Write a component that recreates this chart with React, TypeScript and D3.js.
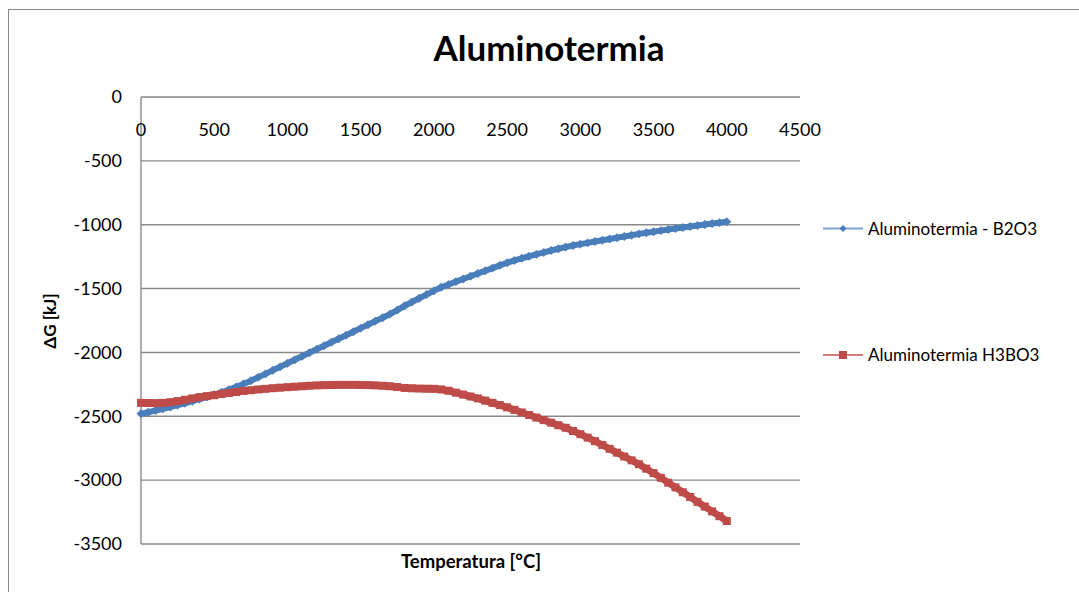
import React from "react";
import * as d3 from "d3";

const temperatures: number[] = Array.from({ length: 81 }, (_, i) => i * 50);

const seriesB2O3: number[] = [
  -2480, -2468, -2455, -2442, -2428, -2413, -2398, -2382, -2366, -2349,
  -2331, -2312, -2292, -2270, -2247, -2222, -2195, -2168, -2140, -2113,
  -2085, -2058, -2030, -2003, -1975, -1948, -1920, -1893, -1865, -1838,
  -1810, -1783, -1755, -1728, -1700, -1668, -1635, -1605, -1576, -1547,
  -1518, -1490, -1468, -1446, -1425, -1403, -1382, -1361, -1340, -1318,
  -1298, -1280, -1263, -1247, -1232, -1217, -1202, -1188, -1175, -1163,
  -1152, -1142, -1132, -1122, -1112, -1102, -1092, -1082, -1072, -1063,
  -1055, -1046, -1038, -1030, -1022, -1014, -1006, -998, -991, -984,
  -977,
];

const seriesH3BO3: number[] = [
  -2395, -2396, -2397, -2395, -2390, -2381, -2371, -2360, -2350, -2342,
  -2335, -2326, -2318, -2310, -2302, -2296, -2290, -2285, -2280, -2276,
  -2272, -2268, -2265, -2261, -2258, -2256, -2255, -2254, -2254, -2254,
  -2255, -2256, -2258, -2261, -2265, -2271, -2278, -2281, -2283, -2284,
  -2285, -2290, -2300, -2315, -2330, -2345, -2360, -2377, -2395, -2412,
  -2430, -2450, -2470, -2490, -2510, -2530, -2550, -2570, -2590, -2615,
  -2640, -2667, -2695, -2725, -2755, -2785, -2815, -2845, -2875, -2910,
  -2945, -2982, -3020, -3057, -3095, -3132, -3170, -3207, -3245, -3282,
  -3320,
];

const xTicks: number[] = [0, 500, 1000, 1500, 2000, 2500, 3000, 3500, 4000, 4500];
const yTicks: number[] = [0, -500, -1000, -1500, -2000, -2500, -3000, -3500];

const seriesNames: string[] = ["Aluminotermia - B2O3", "Aluminotermia H3BO3"];
const title = "Aluminotermia";
const xTitle = "Temperatura [°C]";
const yTitle = "\u0394G [kJ]";

const BLUE = "#4a7ebb";
const RED = "#be4b48";
const GRID = "#8a8a8a";
const FONT = "Lato, 'Open Sans', sans-serif";

export default function App() {
  const x = d3.scaleLinear().domain([0, 4500]).range([141, 800]);
  const y = d3.scaleLinear().domain([-3500, 0]).range([544, 97]);

  const blueData = temperatures.map((t, i) => [t, seriesB2O3[i]] as [number, number]);
  const redData = temperatures.map((t, i) => [t, seriesH3BO3[i]] as [number, number]);

  const line = d3
    .line<[number, number]>()
    .x((d) => x(d[0]))
    .y((d) => y(d[1]));

  const diamond = (r: number) => `M0,${-r}L${r},0L0,${r}L${-r},0Z`;

  return (
    <svg
      width={1079}
      height={592}
      style={{ position: "absolute", left: 0, top: 0, background: "#fff" }}
    >
      <rect x={8.5} y={9.5} width={1100} height={600} fill="#fff" stroke={GRID} strokeWidth={1} />
      <text
        x={549}
        y={61}
        textAnchor="middle"
        fontFamily={FONT}
        fontWeight="bold"
        fontSize={35}
        fill="#000"
      >
        {title}
      </text>

      {yTicks.map((t) => (
        <g key={"y" + t}>
          <line x1={141} x2={800} y1={y(t)} y2={y(t)} stroke={GRID} strokeWidth={1.4} />
          <text
            x={122}
            y={y(t)}
            dy="0.35em"
            textAnchor="end"
            fontFamily={FONT}
            fontSize={18}
            fill="#000"
          >
            {t}
          </text>
        </g>
      ))}
      <line x1={141} x2={141} y1={97} y2={544} stroke={GRID} strokeWidth={1.4} />

      {xTicks.map((t) => (
        <text
          key={"x" + t}
          x={x(t)}
          y={130}
          dy="0.35em"
          textAnchor="middle"
          fontFamily={FONT}
          fontSize={18}
          fill="#000"
        >
          {t}
        </text>
      ))}

      <text
        x={471}
        y={562}
        dy="0.35em"
        textAnchor="middle"
        fontFamily={FONT}
        fontWeight="bold"
        fontSize={18.5}
        fill="#000"
      >
        {xTitle}
      </text>
      <text
        transform={`translate(50,321) rotate(-90)`}
        textAnchor="middle"
        dy="0.35em"
        fontFamily={FONT}
        fontWeight="bold"
        fontSize={17}
        fill="#000"
      >
        {yTitle}
      </text>

      <path
        d={line(blueData) || ""}
        fill="none"
        stroke={BLUE}
        strokeWidth={6}
        strokeLinejoin="round"
      />
      {blueData.map((d, i) => (
        <path
          key={"b" + i}
          d={diamond(4.2)}
          transform={`translate(${x(d[0])},${y(d[1])})`}
          fill={BLUE}
          stroke={BLUE}
          strokeWidth={0.5}
        />
      ))}

      <path
        d={line(redData) || ""}
        fill="none"
        stroke={RED}
        strokeWidth={7}
        strokeLinejoin="round"
      />
      {redData.map((d, i) => (
        <rect
          key={"r" + i}
          x={x(d[0]) - 4}
          y={y(d[1]) - 4}
          width={8}
          height={8}
          fill={RED}
        />
      ))}

      <g>
        <line x1={823} x2={863} y1={228.5} y2={228.5} stroke="#7fa3d3" strokeWidth={2} />
        <path d={diamond(3.5)} transform="translate(843,228.5)" fill={BLUE} />
        <text x={868} y={229} dy="0.35em" fontFamily={FONT} fontSize={17} fill="#000">
          {seriesNames[0]}
        </text>
        <line x1={823} x2={863} y1={355} y2={355} stroke="#d07c7a" strokeWidth={2} />
        <rect x={839} y={351} width={8} height={8} fill={RED} />
        <text x={868} y={355.5} dy="0.35em" fontFamily={FONT} fontSize={17} fill="#000">
          {seriesNames[1]}
        </text>
      </g>
    </svg>
  );
}
